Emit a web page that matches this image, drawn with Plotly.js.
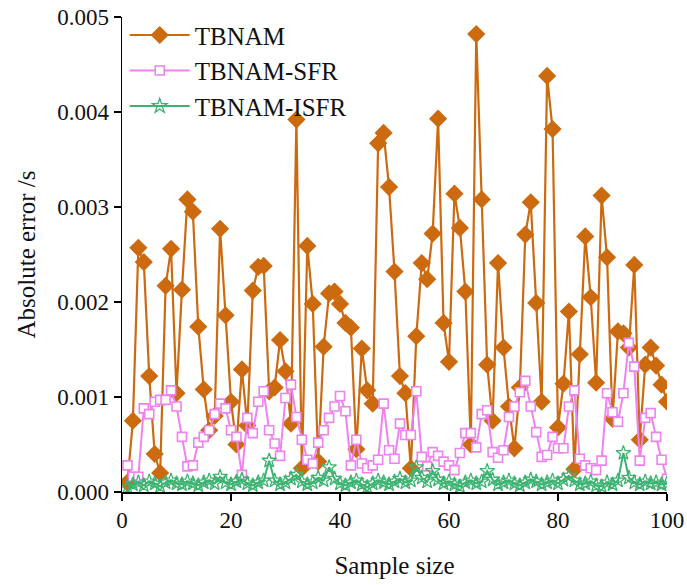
<!DOCTYPE html>
<html>
<head>
<meta charset="utf-8">
<script src="https://cdn.plot.ly/plotly-3.0.1.min.js"></script>
<style>html,body{margin:0;padding:0;background:#fff;}#chart{width:687px;height:585px;}</style>
</head>
<body>
<div id="chart"></div>
<script>
const sampleIdx = Array.from({length: 100}, (_, i) => i + 1);

const tbnam = [
0.0001,0.00075,0.00257,0.00242,0.00122,0.0004,0.0002,0.00217,0.00256,0.00104,
0.00213,0.00308,0.00295,0.00174,0.00108,0.00065,0.0008,0.00277,0.00186,0.00095,
0.0005,0.00129,0.0007,0.00212,0.00237,0.00238,0.00106,0.0011,0.0016,0.00127,
0.00072,0.00392,0.00025,0.00259,0.00198,0.00032,0.00153,0.00209,0.00211,0.00198,
0.00178,0.00173,0.00045,0.00151,0.00107,0.00093,0.00367,0.00378,0.00321,0.00232,
0.00122,0.00104,0.00025,0.00164,0.00241,0.00224,0.00272,0.00393,0.00178,0.00137,
0.00314,0.00278,0.00211,0.0005,0.00482,0.00308,0.00134,0.00075,0.00241,0.00152,
0.0009,0.00046,0.0011,0.00271,0.00305,0.00199,0.00095,0.00438,0.00382,0.00068,
0.00114,0.0019,0.00024,0.00145,0.00269,0.00205,0.00115,0.00312,0.00247,0.00077,
0.00169,0.00167,0.00152,0.00239,0.00055,0.00134,0.00152,0.00133,0.00113,0.00095
];

const tbnamSFR = [
0.00028,0.00016,0.00016,0.00088,0.00082,0.00095,0.00097,0.00097,0.00107,0.0009,
0.00058,0.00027,0.00028,0.00052,0.00058,0.00065,0.00082,0.00093,0.00088,0.00065,
0.00058,0.00018,0.00078,0.00062,0.00095,0.00106,0.00065,0.00051,0.00038,0.00099,
0.00113,0.00079,0.00055,0.00034,0.0003,0.00052,0.00065,0.00078,0.0009,0.00101,
0.00085,0.00028,0.00055,0.0003,0.00025,0.00028,0.00034,0.00093,0.00044,0.00035,
0.00072,0.0006,0.0006,0.00106,0.00037,0.00027,0.00042,0.00038,0.00032,0.00028,
0.00023,0.00041,0.00062,0.00062,0.00047,0.00082,0.00086,0.00042,0.00036,0.00044,
0.00079,0.0009,0.00105,0.00117,0.0009,0.00063,0.00037,0.00039,0.00058,0.00046,
0.00046,0.0009,0.00107,0.00035,0.00028,0.00025,0.00023,0.00033,0.00104,0.00084,
0.00074,0.00104,0.00157,0.00132,0.00033,0.00078,0.00083,0.00058,0.00034,0.00014
];

const tbnamISFR = [
0.00005,0.00008,0.0001,0.00007,0.00011,0.00009,0.00006,0.0001,0.00012,0.00009,
0.00008,0.00011,0.00009,0.00007,0.0001,0.00012,0.00009,0.00016,0.0001,0.00008,
0.00011,0.00013,0.00009,0.00007,0.0001,0.00012,0.00033,0.00012,0.00008,0.0001,
0.00014,0.00018,0.00011,0.00008,0.0001,0.00015,0.00012,0.00026,0.00014,0.00009,
0.00007,0.0001,0.00012,0.00008,0.00005,0.00009,0.00012,0.0001,0.00008,0.00011,
0.00014,0.0001,0.00012,0.00026,0.00015,0.00011,0.00022,0.00013,0.00009,0.00011,
0.00008,0.00006,0.0001,0.00012,0.00009,0.00011,0.00022,0.00013,0.00008,0.0001,
0.00012,0.00009,0.00007,0.0001,0.00013,0.00011,0.00008,0.0001,0.00012,0.00009,
0.00013,0.00017,0.00012,0.00008,0.00009,0.00011,0.00007,0.00006,0.0001,0.00008,
0.00012,0.00041,0.00015,0.0001,0.00008,0.00011,0.00009,0.0001,0.00008,0.00009
];

const seriesNames = ['TBNAM', 'TBNAM-SFR', 'TBNAM-ISFR'];
const xTicks = [0, 20, 40, 60, 80, 100];
const yTicks = [0, 0.001, 0.002, 0.003, 0.004, 0.005];

const FONT = 'Liberation Serif, Times New Roman, serif';

const traces = [
  {
    x: sampleIdx, y: tbnam, name: seriesNames[0], type: 'scatter', mode: 'lines+markers',
    line: {color: '#CC6A10', width: 2.2},
    marker: {symbol: 'diamond', size: 14, color: '#CC6A10'}
  },
  {
    x: sampleIdx, y: tbnamSFR, name: seriesNames[1], type: 'scatter', mode: 'lines+markers',
    line: {color: '#EE82EE', width: 2},
    marker: {symbol: 'square', size: 9, color: '#ffffff', line: {color: '#EE82EE', width: 1.6}}
  },
  {
    x: sampleIdx, y: tbnamISFR, name: seriesNames[2], type: 'scatter', mode: 'lines+markers',
    line: {color: '#3CB371', width: 2},
    marker: {symbol: 'star-open', size: 11, color: '#3CB371', line: {width: 1.3}}
  }
];

const layout = {
  width: 687, height: 585,
  margin: {l: 122, r: 20, t: 17, b: 93},
  paper_bgcolor: '#fff', plot_bgcolor: '#fff',
  font: {family: FONT, size: 23, color: '#111'},
  showlegend: true,
  legend: {
    x: 0.005, y: 1.01, xanchor: 'left', yanchor: 'top',
    bgcolor: 'rgba(0,0,0,0)', font: {family: FONT, size: 25, color: '#111'},
    tracegroupgap: 0, itemwidth: 60
  },
  xaxis: {
    range: [0, 100], tickvals: xTicks, ticktext: xTicks.map(String),
    showgrid: false, zeroline: false, showline: true, linecolor: '#000', linewidth: 1.5,
    ticks: 'outside', ticklen: 7, tickwidth: 1.5, tickcolor: '#000',
    tickfont: {family: FONT, size: 23, color: '#111'},
    title: {text: 'Sample size', font: {family: FONT, size: 25, color: '#111'}, standoff: 24}
  },
  yaxis: {
    range: [0, 0.005], tickvals: yTicks, ticktext: yTicks.map(v => v.toFixed(3)),
    showgrid: false, zeroline: false, showline: true, linecolor: '#000', linewidth: 1.5,
    ticks: 'outside', ticklen: 7, tickwidth: 1.5, tickcolor: '#000',
    tickfont: {family: FONT, size: 23, color: '#111'},
    title: {text: 'Absolute error /s', font: {family: FONT, size: 25, color: '#111'}, standoff: 14}
  }
};

Plotly.newPlot('chart', traces, layout, {displayModeBar: false, staticPlot: true});
</script>
</body>
</html>
